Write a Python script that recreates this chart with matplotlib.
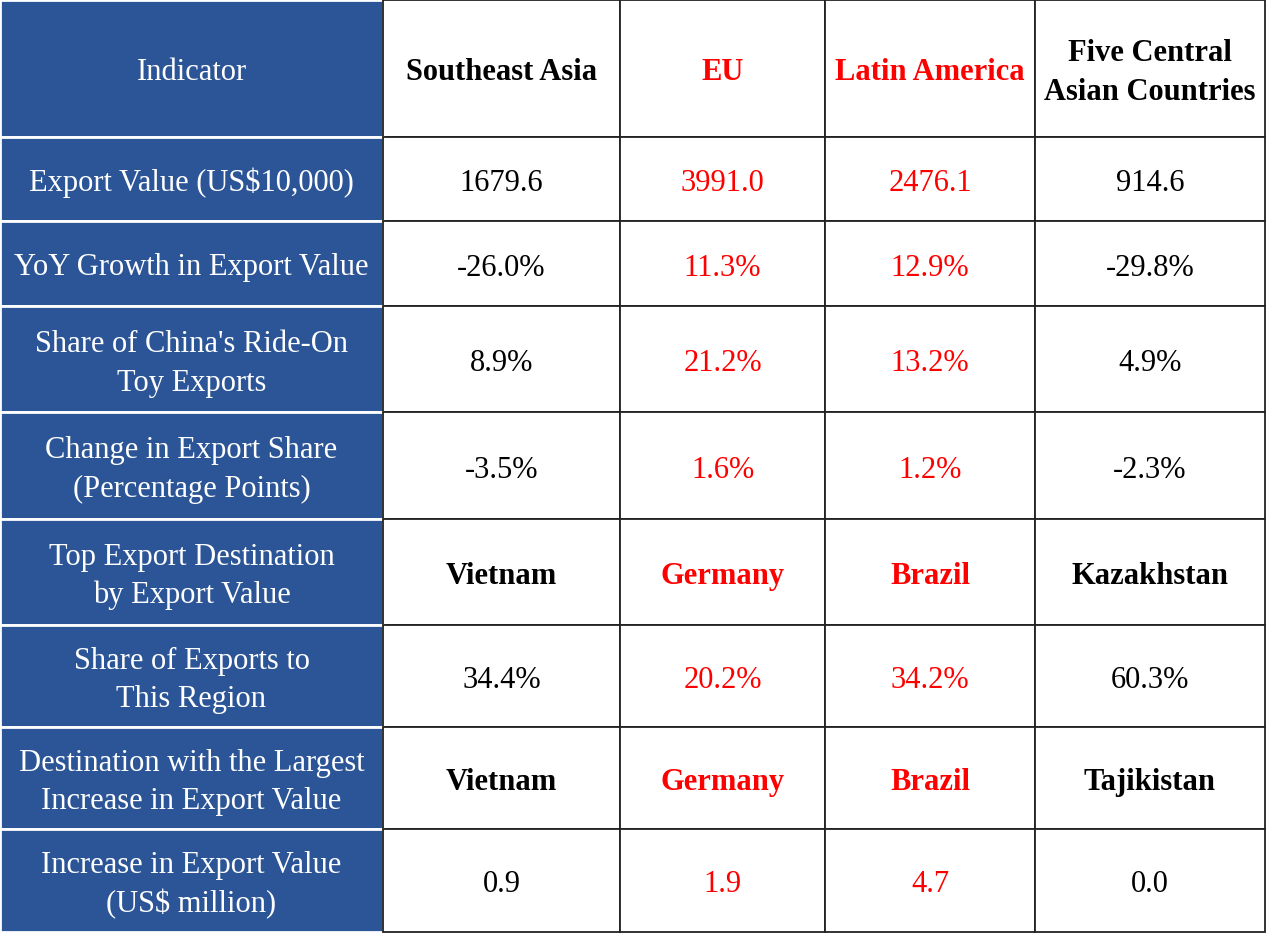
import matplotlib.pyplot as plt
from matplotlib.patches import Rectangle

# table content
header = ["Indicator", "Southeast Asia", "EU", "Latin America",
          "Five Central\nAsian Countries"]
indicators = ["Export Value (US$10,000)",
              "YoY Growth in Export Value",
              "Share of China's Ride-On\nToy Exports",
              "Change in Export Share\n(Percentage Points)",
              "Top Export Destination\nby Export Value",
              "Share of Exports to\nThis Region",
              "Destination with the Largest\nIncrease in Export Value",
              "Increase in Export Value\n(US$ million)"]
southeast_asia = ["1679.6", "-26.0%", "8.9%", "-3.5%", "Vietnam", "34.4%", "Vietnam", "0.9"]
eu = ["3991.0", "11.3%", "21.2%", "1.6%", "Germany", "20.2%", "Germany", "1.9"]
latin_america = ["2476.1", "12.9%", "13.2%", "1.2%", "Brazil", "34.2%", "Brazil", "4.7"]
central_asia = ["914.6", "-29.8%", "4.9%", "-2.3%", "Kazakhstan", "60.3%", "Tajikistan", "0.0"]
columns = [southeast_asia, eu, latin_america, central_asia]
highlight = [False, True, True, False]   # EU and Latin America in red

# grid layout in pixels
col_x = [0, 383, 620, 825, 1035, 1265]
row_y = [0, 137, 221, 306, 412, 519, 625, 727, 829, 932]

blue = "#2B5597"
red = "#FF0000"
font = "Liberation Serif"
fs = 22
line_gap = 39      # px between baselines of two-line labels
cap_half = 10      # half the cap height in px, to centre on the baseline


def cell_text(x, yc, txt, **kw):
    # draw every line on its own baseline so descenders don't push text around
    lines = txt.split("\n")
    n = len(lines)
    for i, line in enumerate(lines):
        yb = yc + (i - (n - 1) / 2) * line_gap + cap_half
        ax.text(x, yb, line, fontsize=fs, family=font, ha="center",
                va="baseline", **kw)


fig = plt.figure(figsize=(12.68, 9.51), dpi=100)
ax = fig.add_axes([0, 0, 1, 1])
ax.set_xlim(0, 1268)
ax.set_ylim(951, 0)
ax.axis("off")

nrows = len(row_y) - 1
for r in range(nrows):
    y0, y1 = row_y[r], row_y[r + 1]
    yc = (y0 + y1) / 2 + 2
    # blue indicator cell
    ax.add_patch(Rectangle((col_x[0], y0), col_x[1] - col_x[0], y1 - y0,
                           facecolor=blue, edgecolor="white", lw=2))
    label = header[0] if r == 0 else indicators[r - 1]
    cell_text((col_x[0] + col_x[1]) / 2, yc, label, color="white")
    for c in range(4):
        x0, x1 = col_x[c + 1], col_x[c + 2]
        ax.add_patch(Rectangle((x0, y0), x1 - x0, y1 - y0,
                               facecolor="white", edgecolor="#222222", lw=1.3))
        if r == 0:
            txt = header[c + 1]
            weight = "bold"
        else:
            txt = columns[c][r - 1]
            weight = "bold" if not txt[0].isdigit() and txt[0] != "-" else "normal"
        color = red if highlight[c] else "black"
        cell_text((x0 + x1) / 2, yc, txt, color=color, weight=weight)

fig.savefig("out.png", dpi=100)
